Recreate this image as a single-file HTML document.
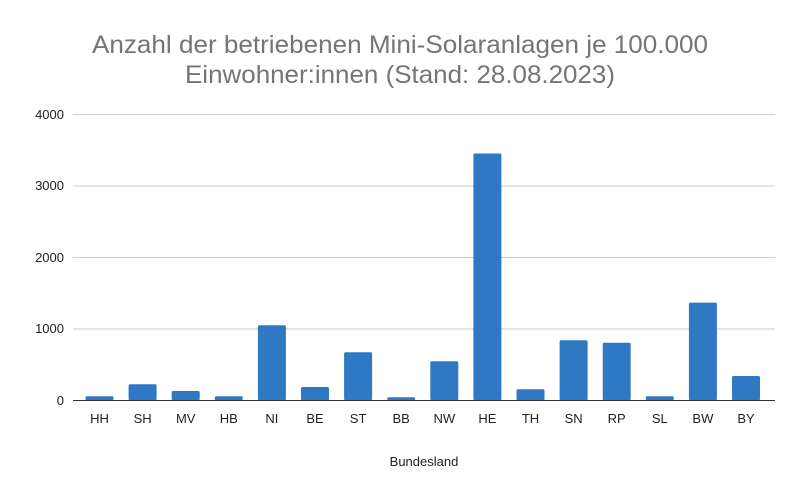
<!DOCTYPE html><html><head><style>body{margin:0;background:#fff}</style></head><body>
<svg width="800" height="495" xmlns="http://www.w3.org/2000/svg" font-family="Liberation Sans, Arial, sans-serif">
<rect width="800" height="495" fill="#fff"/>
<text x="400" y="53" font-size="25" fill="#757575" text-anchor="middle" textLength="616" lengthAdjust="spacingAndGlyphs">Anzahl der betriebenen Mini-Solaranlagen je 100.000</text>
<text x="400" y="83" font-size="25" fill="#757575" text-anchor="middle" textLength="430" lengthAdjust="spacingAndGlyphs">Einwohner:innen (Stand: 28.08.2023)</text>
<g stroke="#cccccc" stroke-width="1">
<line x1="73" x2="775" y1="114.5" y2="114.5"/>
<line x1="73" x2="775" y1="186" y2="186"/>
<line x1="73" x2="775" y1="257.5" y2="257.5"/>
<line x1="73" x2="775" y1="329" y2="329"/>
</g>
<g font-size="13" fill="#222" text-anchor="end">
<text x="64" y="119">4000</text><text x="64" y="190">3000</text><text x="64" y="262">2000</text><text x="64" y="333">1000</text><text x="64" y="405">0</text>
</g>
<g fill="#2f78c4">
<rect x="85.5" y="396.3" width="28" height="4" rx="1.5"/>
<rect x="128.6" y="384.3" width="28" height="16" rx="1.5"/>
<rect x="171.7" y="391" width="28" height="9.3" rx="1.5"/>
<rect x="214.8" y="396.3" width="28" height="4" rx="1.5"/>
<rect x="257.9" y="325.3" width="28" height="75" rx="1.5"/>
<rect x="301" y="387" width="28" height="13.3" rx="1.5"/>
<rect x="344.1" y="352.3" width="28" height="48" rx="1.5"/>
<rect x="387.2" y="397.3" width="28" height="3" rx="1.5"/>
<rect x="430.3" y="361.3" width="28" height="39" rx="1.5"/>
<rect x="473.4" y="153.5" width="28" height="246.8" rx="1.5"/>
<rect x="516.5" y="389.3" width="28" height="11" rx="1.5"/>
<rect x="559.6" y="340.3" width="28" height="60" rx="1.5"/>
<rect x="602.7" y="342.8" width="28" height="57.5" rx="1.5"/>
<rect x="645.8" y="396.3" width="28" height="4" rx="1.5"/>
<rect x="688.9" y="302.6" width="28" height="97.7" rx="1.5"/>
<rect x="732" y="376" width="28" height="24.3" rx="1.5"/>
</g>
<line x1="73" x2="775" y1="400.5" y2="400.5" stroke="#333" stroke-width="1"/>
<g font-size="13" fill="#222" text-anchor="middle">
<text x="99.5" y="423">HH</text><text x="142.6" y="423">SH</text><text x="185.7" y="423">MV</text><text x="228.8" y="423">HB</text><text x="271.9" y="423">NI</text><text x="315" y="423">BE</text><text x="358.1" y="423">ST</text><text x="401.2" y="423">BB</text><text x="444.3" y="423">NW</text><text x="487.4" y="423">HE</text><text x="530.5" y="423">TH</text><text x="573.6" y="423">SN</text><text x="616.7" y="423">RP</text><text x="659.8" y="423">SL</text><text x="702.9" y="423">BW</text><text x="746" y="423">BY</text>
<text x="424" y="466">Bundesland</text>
</g>
</svg>
</body></html>
